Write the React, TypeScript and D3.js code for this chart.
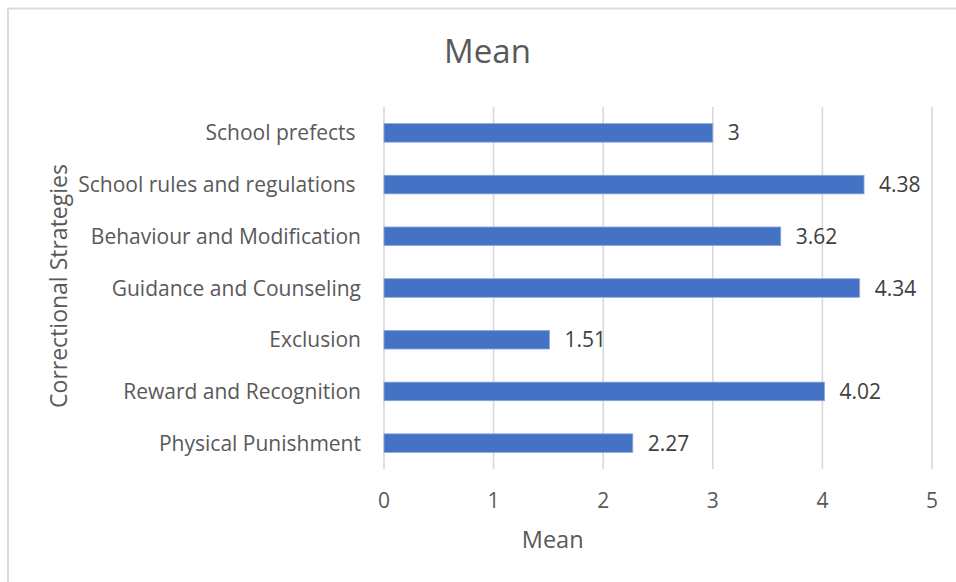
import React from "react";
import * as d3 from "d3";

const categories = [
  "School prefects ",
  "School rules and regulations ",
  "Behaviour and Modification",
  "Guidance and Counseling",
  "Exclusion",
  "Reward and Recognition",
  "Physical Punishment",
];
const values = [3, 4.38, 3.62, 4.34, 1.51, 4.02, 2.27];
const valueLabels = ["3", "4.38", "3.62", "4.34", "1.51", "4.02", "2.27"];
const xTicks = [0, 1, 2, 3, 4, 5];
const title = "Mean";
const xTitle = "Mean";
const yTitle = "Correctional Strategies";

const W = 956;
const H = 582;
const FONT = "'Open Sans', 'Noto Sans', sans-serif";
const TXT = "#595959";

export default function App() {
  const x = d3.scaleLinear().domain([0, 5]).range([384, 932]);
  const y = d3
    .scaleBand<string>()
    .domain(categories)
    .range([107, 469])
    .paddingInner(0.64)
    .paddingOuter(0.32);
  const bw = y.bandwidth();

  return (
    <svg
      width={W}
      height={H}
      style={{ position: "absolute", left: 0, top: 0, background: "#fff" }}
      fontFamily={FONT}
    >
      <rect x={0} y={0} width={W} height={H} fill="#fff" />
      <rect
        x={8}
        y={8.5}
        width={W + 20}
        height={H + 20}
        fill="#fff"
        stroke="#D9D9D9"
        strokeWidth={1.8}
      />
      <text x={487.5} y={63} textAnchor="middle" fontSize={33} fill={TXT}>
        {title}
      </text>
      {xTicks.map((t) => (
        <line
          key={"g" + t}
          x1={x(t)}
          x2={x(t)}
          y1={107}
          y2={469}
          stroke="#D9D9D9"
          strokeWidth={1.6}
        />
      ))}
      {categories.map((c, i) => (
        <g key={c}>
          <rect
            x={x(0)}
            y={y(c)!}
            width={x(values[i]) - x(0)}
            height={bw}
            fill="#4472C4"
            stroke="#8FAADC"
            strokeWidth={0.8}
          />
          <text
            x={x(values[i]) + 15}
            y={y(c)! + bw / 2 + 7.5}
            fontSize={21}
            fill="#404040"
          >
            {valueLabels[i]}
          </text>
          <text
            x={361}
            y={y(c)! + bw / 2 + 7.5}
            fontSize={21}
            fill={TXT}
            textAnchor="end"
            style={{ whiteSpace: "pre" }}
          >
            {c}
          </text>
        </g>
      ))}
      {xTicks.map((t) => (
        <text
          key={"t" + t}
          x={x(t)}
          y={507.5}
          textAnchor="middle"
          fontSize={21}
          fill={TXT}
        >
          {t}
        </text>
      ))}
      <text x={552.7} y={547.5} textAnchor="middle" fontSize={23.5} fill={TXT}>
        {xTitle}
      </text>
      <text
        transform={`translate(66.5,286) rotate(-90)`}
        textAnchor="middle"
        fontSize={23}
        fill={TXT}
      >
        {yTitle}
      </text>
    </svg>
  );
}
